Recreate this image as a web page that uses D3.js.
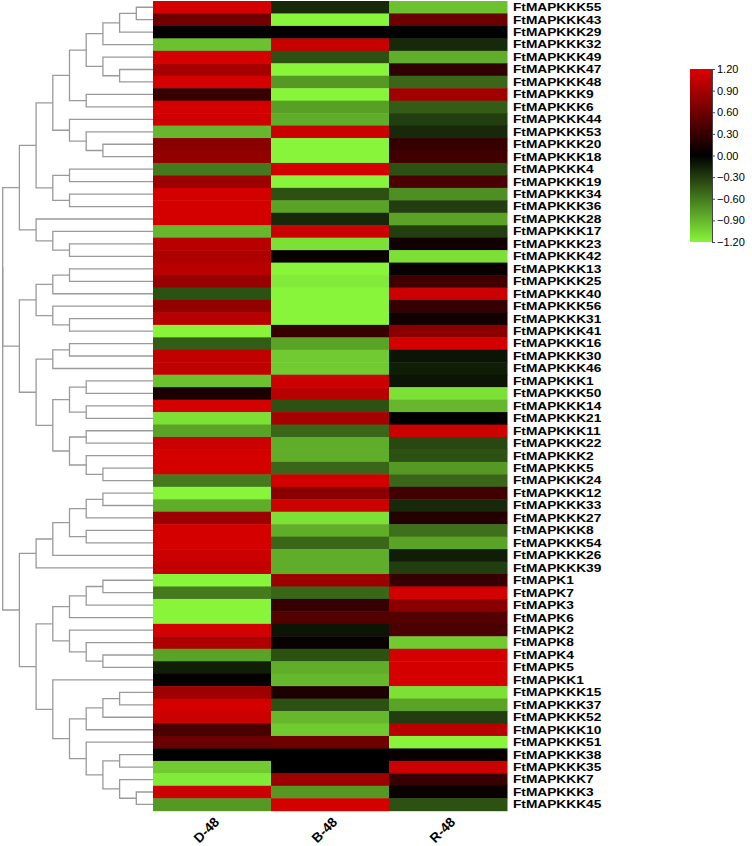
<!DOCTYPE html>
<html><head><meta charset="utf-8">
<script src="https://cdn.jsdelivr.net/npm/d3@7"></script>
<style>body{margin:0;background:#fff}svg{display:block}</style>
</head><body><svg id="c" width="752" height="846"></svg>
<script>
const genes = ["FtMAPKKK55","FtMAPKKK43","FtMAPKKK29","FtMAPKKK32","FtMAPKKK49","FtMAPKKK47","FtMAPKKK48","FtMAPKKK9","FtMAPKKK6","FtMAPKKK44","FtMAPKKK53","FtMAPKKK20","FtMAPKKK18","FtMAPKKK4","FtMAPKKK19","FtMAPKKK34","FtMAPKKK36","FtMAPKKK28","FtMAPKKK17","FtMAPKKK23","FtMAPKKK42","FtMAPKKK13","FtMAPKKK25","FtMAPKKK40","FtMAPKKK56","FtMAPKKK31","FtMAPKKK41","FtMAPKKK16","FtMAPKKK30","FtMAPKKK46","FtMAPKKK1","FtMAPKKK50","FtMAPKKK14","FtMAPKKK21","FtMAPKKK11","FtMAPKKK22","FtMAPKKK2","FtMAPKKK5","FtMAPKKK24","FtMAPKKK12","FtMAPKKK33","FtMAPKKK27","FtMAPKKK8","FtMAPKKK54","FtMAPKKK26","FtMAPKKK39","FtMAPK1","FtMAPK7","FtMAPK3","FtMAPK6","FtMAPK2","FtMAPK8","FtMAPK4","FtMAPK5","FtMAPKK1","FtMAPKKK15","FtMAPKKK37","FtMAPKKK52","FtMAPKKK10","FtMAPKKK51","FtMAPKKK38","FtMAPKKK35","FtMAPKKK7","FtMAPKKK3","FtMAPKKK45"];
const columns = ["D-48","B-48","R-48"];
const valD = [1.15,0.6,0.02,-0.95,1.15,0.9,1.15,0.3,1.15,1.12,-0.9,0.75,0.8,-0.6,0.85,1.15,1.15,1.15,-0.9,1.0,0.95,1.0,0.82,-0.4,0.8,1.0,-1.2,-0.45,1.05,1.05,-0.95,0.15,1.15,-1.1,-0.8,1.1,1.15,1.15,-0.6,-1.2,-0.85,0.85,1.15,1.15,1.1,1.05,-1.2,-0.6,-1.2,-1.2,1.15,0.95,-0.8,-0.15,0.02,0.85,1.15,1.1,0.4,0.58,0.0,-1.0,-1.15,1.1,-0.75];
const valB = [-0.2,-1.2,0.0,1.08,-0.4,-1.2,-0.75,-1.2,-0.78,-0.85,1.1,-1.2,-1.2,1.15,-1.2,-0.4,-0.8,-0.2,1.1,-1.1,0.05,-1.2,-1.15,-1.2,-1.2,-1.2,0.3,-0.8,-1.0,-1.0,1.1,1.0,-0.4,0.9,-0.5,-0.85,-0.85,-0.5,1.15,0.75,1.1,-1.1,-0.85,-0.5,-0.85,-0.85,0.85,-0.5,0.3,0.45,-0.1,0.05,-0.4,-0.85,-0.9,0.15,-0.4,-0.9,-1.0,0.6,0.0,0.0,0.85,-0.75,1.15];
const valR = [-0.95,0.58,0.0,-0.2,-0.85,0.25,-0.5,0.88,-0.45,-0.3,-0.2,0.3,0.35,-0.4,0.4,-0.7,-0.3,-0.8,-0.3,0.1,-1.1,0.05,0.35,1.1,0.3,0.1,0.75,1.15,-0.1,-0.15,-0.1,-1.1,-0.9,0.0,1.1,-0.35,-0.4,-0.75,-0.5,0.35,-0.2,0.2,-0.55,-0.8,-0.15,-0.3,0.3,1.15,0.75,0.45,0.4,-1.0,1.15,1.15,1.15,-1.1,-0.8,-0.3,1.0,-1.2,0.05,1.1,0.3,0.05,-0.4];
const legendTicks = [1.2,0.9,0.6,0.3,0,-0.3,-0.6,-0.9,-1.2];

// dendrogram: [mergeLevel, left, right]; leaves are row indices
const clusterTop = [8,
  [7,
    [6,
      [5, [4, [3, [2, [1,0,1], 2], 3], [3, 4, [2,5,6]]], [4,7,8]],
      [5, 9, [4, 10, [3,11,12]]]],
    [6, [5,13,14], [5,15,16]]],
  [7, 17, [6, 18, [5,19,20]]]];
const clusterMid = [8,
  [7, [6, [5,21,22], 23], [6, 24, [5,25,26]]],
  [7, [6, [5,27,28], 29],
      [6, [5, [4,30,31], [4,32,33]], [5, [4,34,35], [4, 36, [3,37,38]]]]]];
const clusterBottom = [8,
  [7, [6, [5, [4, [3,39,40], 41], [4,42,43]], 44], 45],
  [7,
    [6, [5, [4, [3,46,47], 48], 49], [5, 50, [4, 51, [3,52,53]]]],
    [6, 54, [5, [4, [3, [2,55,56], 57], 58], [4, 59, [3, [2,60,61], [2, 62, [1,63,64]]]]]]]];
const tree = [9, [9, clusterTop, clusterMid], clusterBottom];

const svg = d3.select("#c");
const values = [valD, valB, valR];
const x = d3.scaleBand().domain(columns).range([153, 507]);
const y = d3.scaleBand().domain(d3.range(genes.length)).range([1, 810.7]);
const color = d3.scaleLinear().domain([-1.2,0,1.2]).range(["#88f43a","#000000","#dd0000"]).clamp(true);

const cells = [];
columns.forEach((c,ci)=>values[ci].forEach((v,ri)=>cells.push({c,ri,v})));
svg.append("g").selectAll("rect").data(cells).join("rect")
  .attr("x", d=>x(d.c)).attr("y", d=>y(d.ri))
  .attr("width", x.bandwidth()+0.5).attr("height", y.bandwidth()+0.5)
  .attr("fill", d=>color(d.v));

// gene labels (slightly widened glyphs so rows do not collide)
svg.append("g").selectAll("text").data(genes).join("text")
  .attr("transform", (d,i)=>`translate(513,${y(i)+y.bandwidth()/2}) scale(1.27,1)`)
  .attr("dy","0.36em")
  .attr("font-family","Liberation Sans, Arial, sans-serif")
  .attr("font-weight","bold").attr("font-size", 10.8)
  .attr("fill","#000").text(d=>d);

// column labels
svg.append("g").selectAll("text").data(columns).join("text")
  .attr("transform", d=>`translate(${x(d)+x.bandwidth()/2+8},${823}) rotate(-45)`)
  .attr("text-anchor","end")
  .attr("font-family","Liberation Sans, Arial, sans-serif")
  .attr("font-weight","bold").attr("font-size", 13.5)
  .text(d=>d);

// dendrogram
const xd = d3.scaleLinear().domain([0,9]).range([153, 2.7]);
const paths = [];
function layout(node){
  if (typeof node === "number") return {x: 153, y: y(node)+y.bandwidth()/2};
  const [h,a,b] = node;
  const pa = layout(a), pb = layout(b);
  const nx = xd(h);
  paths.push(`M${pa.x},${pa.y}H${nx}V${pb.y}H${pb.x}`);
  return {x: nx, y: (pa.y+pb.y)/2};
}
layout(tree);
svg.append("g").selectAll("path").data(paths).join("path")
  .attr("d", d=>d).attr("fill","none").attr("stroke","#9a9a9a").attr("stroke-width",1.3);

// legend
const defs = svg.append("defs");
const grad = defs.append("linearGradient").attr("id","lg").attr("x1",0).attr("y1",1).attr("x2",0).attr("y2",0);
grad.append("stop").attr("offset","0%").attr("stop-color",color(-1.2));
grad.append("stop").attr("offset","50%").attr("stop-color",color(0));
grad.append("stop").attr("offset","100%").attr("stop-color",color(1.2));
const ly = d3.scaleLinear().domain([-1.2,1.2]).range([242, 69]);
svg.append("rect").attr("x",690).attr("y",69).attr("width",22).attr("height",173).attr("fill","url(#lg)");
const ax = svg.append("g").attr("transform","translate(712,0)")
  .call(d3.axisRight(ly).tickValues(legendTicks).tickFormat(d3.format(".2f")).tickSize(3).tickPadding(2));
ax.select(".domain").attr("stroke","#444");
ax.selectAll(".tick line").attr("stroke","#444");
ax.selectAll("text").attr("font-family","Liberation Sans, Arial, sans-serif").attr("font-size",11).attr("fill","#000");
</script></body></html>
